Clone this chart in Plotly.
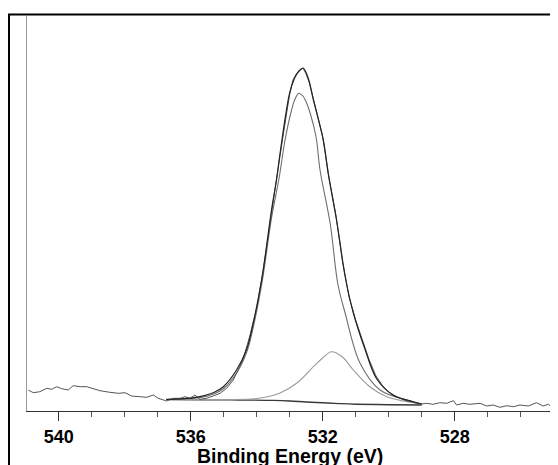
import plotly.graph_objects as go

# Raw spectrum (binding energy eV, intensity a.u.)
raw_be = [540.92, 540.77, 540.57, 540.36, 540.21, 540.06, 539.91, 539.71, 539.56, 539.35,
          539.15, 538.95, 538.75, 538.45, 538.19, 537.99, 537.79, 537.54, 537.33, 537.13,
          536.98, 536.73, 536.53, 536.32, 536.17, 536.02, 535.87, 535.72, 535.52, 535.32,
          535.11, 534.91, 534.71, 534.56, 534.4, 534.2, 534.0, 533.8, 533.6, 533.4,
          533.2, 533.0, 532.9, 532.8, 532.7, 532.6, 532.5, 532.4, 532.2, 532.0,
          531.8, 531.6, 531.4, 531.2, 531.0, 530.8, 530.6, 530.4, 530.2, 530.0,
          529.8, 529.6, 529.45, 529.25, 529.05, 528.85, 528.65, 528.45, 528.24, 528.04,
          527.94, 527.74, 527.54, 527.23, 527.03, 526.83, 526.63, 526.42, 526.22, 526.02,
          525.77, 525.52, 525.32, 525.16, 525.06]
raw_int = [21, 18.3, 19.3, 22.7, 21.7, 24.3, 22.3, 21, 25.3, 24.3,
           24.3, 22, 20.3, 18.7, 17.7, 18.3, 15, 14.3, 13.7, 16,
           12.7, 10, 12.7, 12.7, 14.3, 12.7, 16, 11.7, 12.7, 15,
           17.7, 22.7, 31, 41, 53, 76, 103, 141, 188, 232,
           275, 317, 331, 337, 340, 343, 337, 328, 301, 274,
           232, 196, 150, 114, 91, 72, 52, 36, 26, 19,
           15, 12, 10, 9, 6.7, 7.7, 6.7, 8.3, 7.7, 10.3,
           6, 7.7, 6.7, 7.7, 5, 6, 3.7, 5.3, 4.3, 6,
           5, 8.3, 5, 6.7, 3.7]

# Fitted envelope
env_be = [536.74, 536.0, 535.72, 535.3, 535.01, 534.61, 534.3, 534.15, 533.85, 533.55,
          533.39, 533.29, 533.0, 532.85, 532.72, 532.59, 532.45, 532.28, 531.98, 531.83,
          531.58, 531.31, 531.07, 530.72, 530.36, 529.87, 529.26, 529.0]
env_int = [11.5, 12.8, 14.3, 18.5, 24.3, 41, 62, 81, 131, 201,
           233, 258, 318, 333, 340, 343, 334, 311, 271, 237,
           191, 133, 98, 62, 32, 16, 9.3, 7]

# Main component (on background)
c1_be = [536.74, 535.7, 535.3, 535.0, 534.6, 534.3, 534.15, 533.85, 533.55, 533.32,
         533.14, 532.95, 532.85, 532.72, 532.6, 532.5, 532.38, 532.2, 532.08, 531.77,
         531.54, 531.32, 530.87, 530.26, 529.45, 529.0]
c1_int = [11.5, 13.5, 17, 22.5, 38.5, 59, 77, 126, 193, 233,
          271, 300, 311, 317.7, 315, 309, 298, 274, 241, 187,
          127, 98, 48, 21, 11, 7]

# Second component (on background)
c2_be = [536.74, 535.0, 534.0, 533.29, 532.79, 532.28, 532.0, 531.73, 531.4, 531.07,
         530.57, 530.06, 529.26, 529.0]
c2_int = [11.5, 11.5, 12.5, 18, 27.7, 44.3, 53, 59.3, 54, 41,
          24.3, 14.3, 8.3, 7]

# Background
bg_be = [536.74, 535.5, 534.5, 533.5, 533.0, 532.5, 532.0, 531.5, 531.0, 530.0, 529.0]
bg_int = [11.5, 11.3, 11.0, 10.6, 10.0, 9.0, 8.2, 7.4, 6.8, 6.3, 6.0]

tick_vals = [540, 536, 532, 528]
tick_text = ["540", "536", "532", "528"]
x_title = "Binding Energy (eV)"

fig = go.Figure()
fig.add_trace(go.Scatter(x=bg_be, y=bg_int, mode="lines",
                         line=dict(color="#3a3a3a", width=1.4, shape="spline")))
fig.add_trace(go.Scatter(x=c2_be, y=c2_int, mode="lines",
                         line=dict(color="#9a9a9a", width=1.1, shape="spline")))
fig.add_trace(go.Scatter(x=c1_be, y=c1_int, mode="lines",
                         line=dict(color="#6e6e6e", width=1.1, shape="spline")))
fig.add_trace(go.Scatter(x=raw_be, y=raw_int, mode="lines",
                         line=dict(color="#555555", width=1)))
fig.add_trace(go.Scatter(x=env_be, y=env_int, mode="lines",
                         line=dict(color="#222222", width=1.2, shape="spline")))

fig.update_layout(
    width=550, height=457,
    margin=dict(l=19, r=5, t=8, b=54, autoexpand=False),
    paper_bgcolor="white", plot_bgcolor="white",
    showlegend=False,
    font=dict(family="Liberation Sans, Arial, sans-serif", color="black"),
    xaxis=dict(
        range=[540.96, 525.02],
        automargin=False,
        tickvals=tick_vals, ticktext=tick_text,
        ticks="outside", ticklen=9, tickwidth=1, tickcolor="#333333",
        minor=dict(dtick=1, tick0=540, ticks="outside", ticklen=5, tickcolor="#555555"),
        tickfont=dict(size=18, family="Liberation Sans, Arial, sans-serif", color="black", weight="bold"),
        showgrid=False, zeroline=False,
        showline=True, linecolor="#333333", linewidth=1,
    ),
    yaxis=dict(
        range=[0, 395], showticklabels=False, ticks="",
        automargin=False,
        showgrid=False, zeroline=False,
        showline=True, mirror=True, linecolor="#9a9a9a", linewidth=1,
    ),
    annotations=[dict(text="<b>" + x_title + "</b>", xref="paper", yref="paper",
                      x=0.5, y=-0.113, xanchor="center", yanchor="middle",
                      showarrow=False,
                      font=dict(size=19.5, family="Liberation Sans, Arial, sans-serif", color="black"))],
    shapes=[dict(type="rect", xref="paper", yref="paper",
                 x0=-0.0342, x1=1.0076, y0=-0.25, y1=1.0038,
                 line=dict(color="black", width=2), fillcolor="rgba(0,0,0,0)")],
)

fig.write_html("out.html")
